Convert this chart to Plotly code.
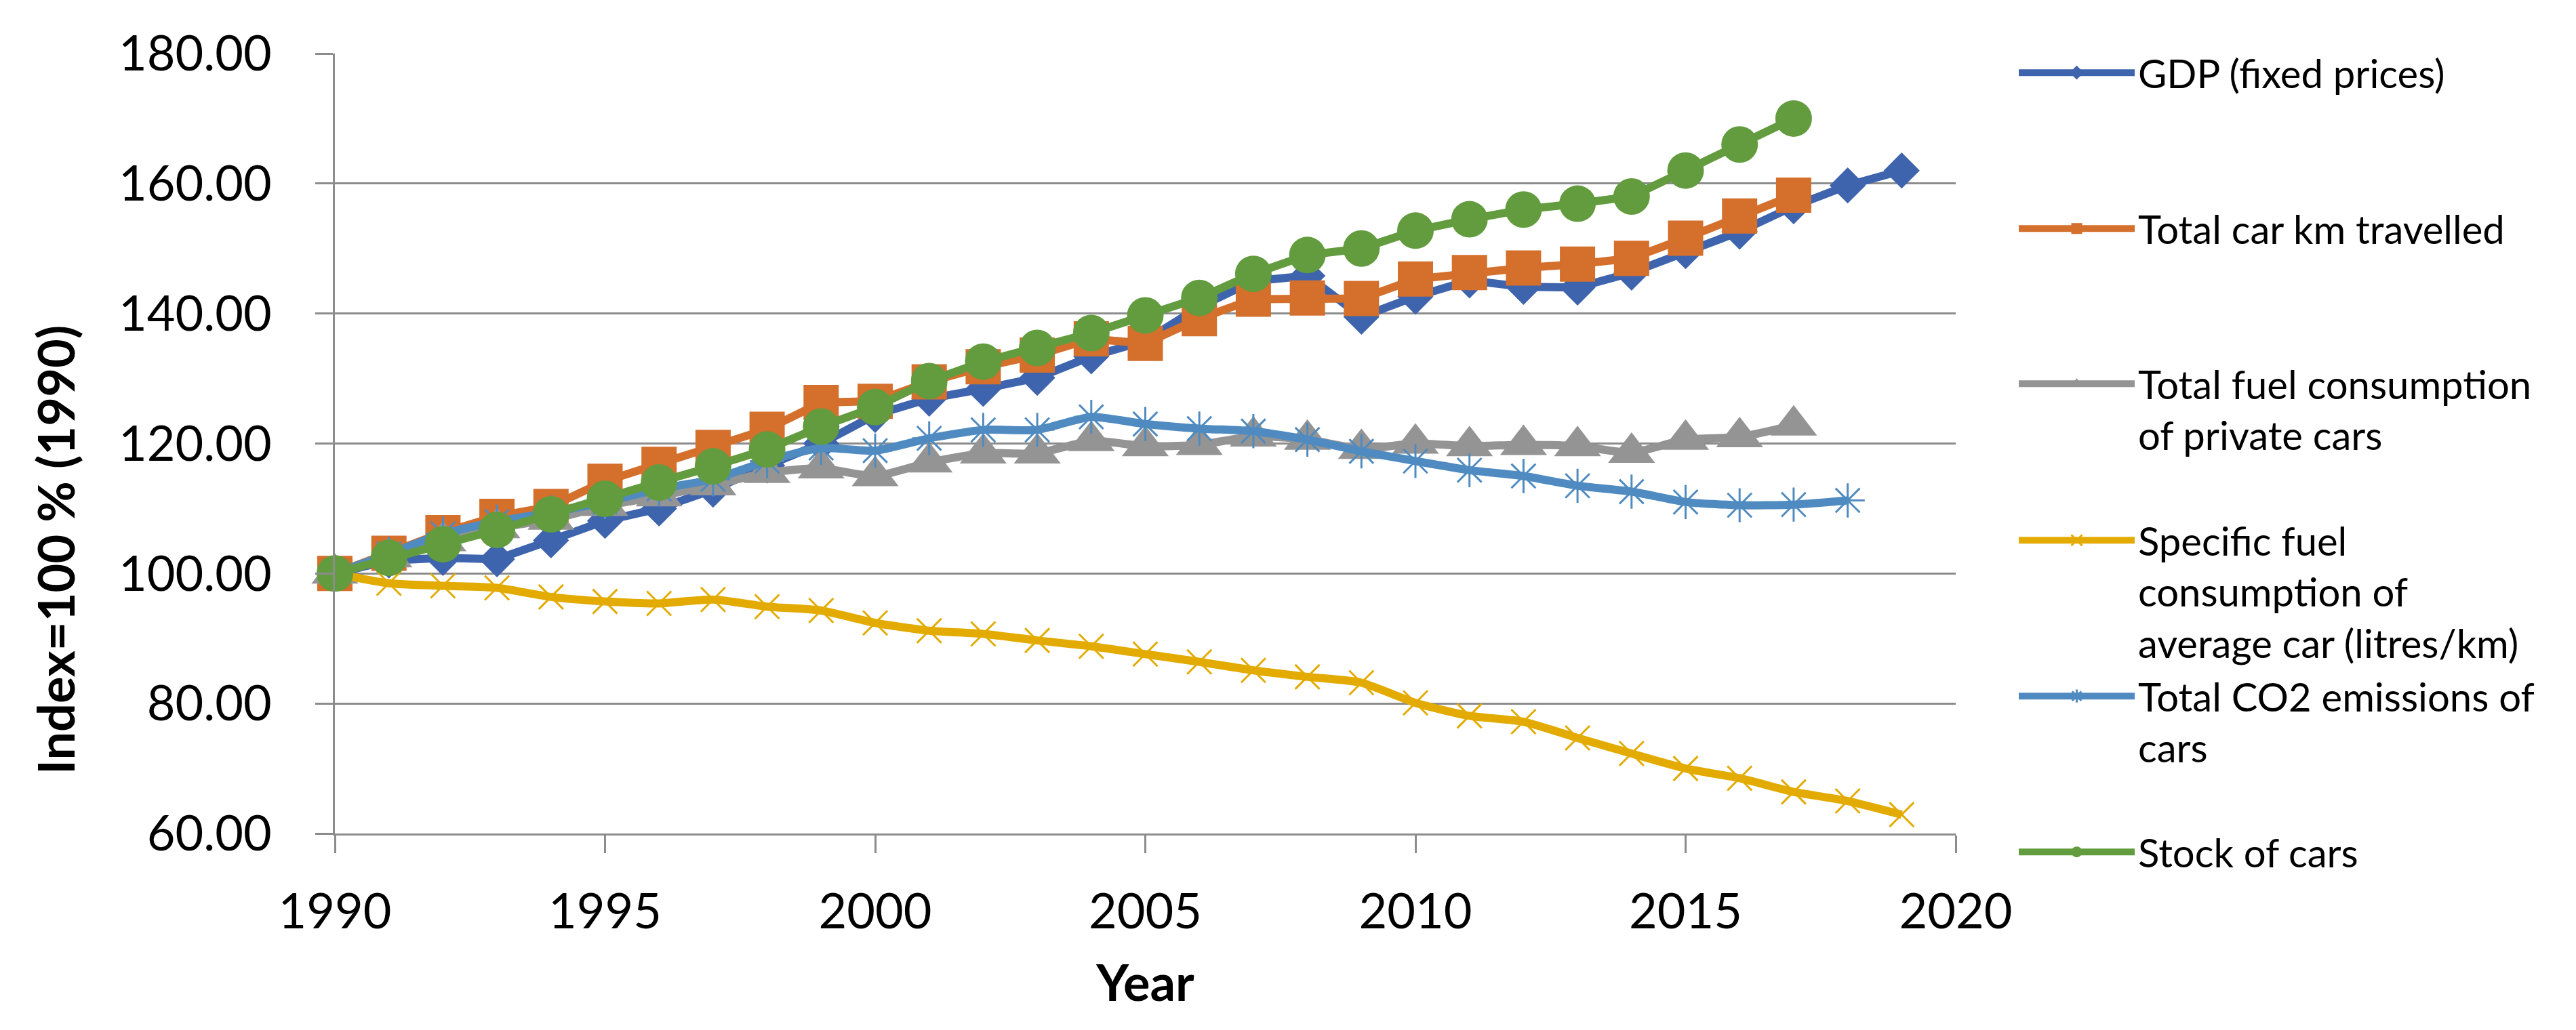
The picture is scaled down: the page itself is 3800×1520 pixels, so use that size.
import plotly.graph_objects as go

years = list(range(1990, 2020))

gdp = [100.0, 102.0, 102.4, 102.2, 105.1, 108.1, 110.0, 112.9, 116.6, 120.0,
       124.4, 126.9, 128.4, 130.1, 133.4, 135.8, 141.0, 145.0, 145.8, 139.5,
       142.6, 145.1, 144.1, 144.0, 146.3, 149.6, 152.6, 156.5, 159.7, 162.0]

car_km = [100.0, 103.1, 106.3, 108.8, 110.3, 114.2, 116.8, 119.4, 122.2, 126.3,
          126.5, 129.5, 131.8, 133.6, 136.1, 135.4, 139.2, 142.2, 142.4, 142.3,
          145.3, 146.3, 147.0, 147.6, 148.5, 151.6, 155.0, 158.2]

fuel_total = [100.0, 102.5, 105.0, 107.0, 108.3, 110.4, 111.9, 113.6, 115.5, 116.2,
              115.0, 117.1, 118.5, 118.5, 120.4, 119.6, 119.8, 121.1, 120.6, 119.2,
              120.0, 119.6, 119.8, 119.6, 118.6, 120.6, 121.0, 122.8]

fuel_specific = [100.0, 98.5, 98.1, 97.8, 96.4, 95.7, 95.4, 96.0, 94.9, 94.3,
                 92.4, 91.2, 90.7, 89.7, 88.8, 87.6, 86.4, 85.1, 84.1, 83.2,
                 80.1, 78.1, 77.2, 74.7, 72.3, 70.0, 68.5, 66.4, 65.0, 62.9]

co2 = [100.0, 103.0, 106.1, 108.0, 109.4, 111.0, 113.0, 114.5, 117.3, 119.3,
       118.9, 120.8, 122.1, 122.1, 124.1, 123.0, 122.3, 121.9, 120.6, 118.8,
       117.3, 115.9, 115.0, 113.5, 112.6, 111.0, 110.5, 110.6, 111.25]

stock = [100.0, 102.4, 104.5, 106.7, 109.1, 111.5, 114.0, 116.5, 119.1, 122.6,
         125.6, 129.6, 132.6, 134.7, 137.0, 139.7, 142.4, 146.1, 149.0, 150.0,
         152.75, 154.5, 156.0, 156.9, 158.0, 162.0, 166.0, 170.0]

names = ["GDP (fixed prices)",
         "Total car km travelled",
         "Total fuel consumption<br>of private cars",
         "Specific fuel<br>consumption of<br>average car (litres/km)",
         "Total CO2 emissions of<br>cars",
         "Stock of cars"]

y_ticks = [60, 80, 100, 120, 140, 160, 180]
x_ticks = [1990, 1995, 2000, 2005, 2010, 2015, 2020]

series = [gdp, car_km, fuel_total, fuel_specific, co2, stock]
colors = ["#3E64AE", "#D46F2C", "#949494", "#E3AB00", "#4F8BC0", "#629C3E"]
symbols = ["diamond", "square", "triangle-up", "x-thin-open", "asterisk-open", "circle"]
msizes = [41, 52, 60, 36, 42, 54]
smooth = [False, False, True, True, True, False]

FONT = "Lato"
fig = go.Figure()

L, R, T, B = 486, 923, 71, 298
W, H = 3800, 1520
pw, ph = W - L - R, H - T - B
leg_centers = [98, 328, 557, 788, 1018, 1248]

for i, (vals, name) in enumerate(zip(series, names)):
    leg = "legend" if i == 0 else f"legend{i+1}"
    sym = symbols[i]
    open_sym = sym.endswith("open")
    fig.add_trace(go.Scatter(
        x=years[:len(vals)], y=vals, name=name, mode="lines+markers",
        line=dict(color=colors[i], width=12,
                  shape="spline" if smooth[i] else "linear", smoothing=0.6),
        marker=dict(symbol=sym, size=msizes[i], color=colors[i],
                    line=dict(color=colors[i], width=3 if open_sym else 0)),
        cliponaxis=False, legend=leg,
    ))

layout_legends = {}
for i, c in enumerate(leg_centers):
    key = "legend" if i == 0 else f"legend{i+1}"
    top_px = c - 43
    layout_legends[key] = dict(
        x=(2965 - L) / pw, xanchor="left",
        y=(H - B - top_px) / ph, yanchor="top",
        bgcolor="rgba(0,0,0,0)", borderwidth=0,
        font=dict(family=FONT, size=58, color="black"),
        itemwidth=171, valign="top", tracegroupgap=0,
    )

fig.update_layout(
    width=W, height=H,
    margin=dict(l=L, r=R, t=T, b=B, pad=0),
    paper_bgcolor="white", plot_bgcolor="white",
    font=dict(family=FONT, color="black"),
    showlegend=True,
    **layout_legends,
)

grid = "#8C8C8C"
fig.update_yaxes(
    range=[60, 180], tickvals=y_ticks, ticktext=[f"{v:.2f}" for v in y_ticks],
    showgrid=True, gridcolor=grid, gridwidth=3.3,
    ticks="outside", ticklen=26, tickwidth=3.3, tickcolor=grid,
    showline=True, linecolor=grid, linewidth=2.5, zeroline=False,
    tickfont=dict(family=FONT, size=72, color="black"), ticklabelstandoff=50,
)
fig.update_xaxes(
    range=[1990, 2020], tickvals=x_ticks, ticktext=[str(v) for v in x_ticks],
    showgrid=False, showline=True, linecolor=grid, linewidth=3.3, zeroline=False,
    ticks="outside", ticklen=26, tickwidth=2.5, tickcolor=grid,
    tickfont=dict(family=FONT, size=72, color="black"), ticklabelstandoff=24,
    title=dict(text="<b>Year</b>", font=dict(family=FONT, size=74, color="black"), standoff=42),
)

fig.add_annotation(
    text="<b>Index=100 % (1990)</b>", textangle=-90,
    xref="paper", yref="paper",
    x=(73 - L) / pw, y=(H - B - 804) / ph, xanchor="center", yanchor="middle",
    showarrow=False, font=dict(family=FONT, size=74, color="black"),
)

fig.write_html("out.html")
